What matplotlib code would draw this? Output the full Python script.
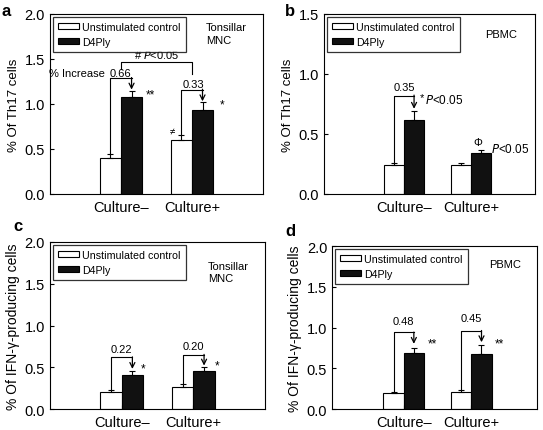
import numpy as np
import matplotlib
matplotlib.use("Agg")
import matplotlib.pyplot as plt

plt.rcParams['font.family'] = ['Liberation Sans', 'DejaVu Sans']

# data
groups = ["Culture\u2013", "Culture+"]
series = ["Unstimulated control", "D4Ply"]

a_ctrl = [0.40, 0.60]
a_ctrl_err = [0.04, 0.06]
a_d4 = [1.08, 0.93]
a_d4_err = [0.06, 0.09]

b_ctrl = [0.24, 0.24]
b_ctrl_err = [0.02, 0.02]
b_d4 = [0.62, 0.34]
b_d4_err = [0.07, 0.03]

c_ctrl = [0.20, 0.26]
c_ctrl_err = [0.03, 0.04]
c_d4 = [0.41, 0.45]
c_d4_err = [0.05, 0.05]

d_ctrl = [0.20, 0.21]
d_ctrl_err = [0.01, 0.02]
d_d4 = [0.69, 0.67]
d_d4_err = [0.06, 0.12]

increase_a = ["0.66", "0.33"]
increase_b = ["0.35"]
increase_c = ["0.22", "0.20"]
increase_d = ["0.48", "0.45"]

fig = plt.figure(figsize=(5.43, 4.31), dpi=100)

W = 0.3


def panel(rect, ctrl, ctrl_err, d4, d4_err, ymax, ylabel, ylsize, xlim):
    ax = fig.add_axes(rect)
    x = np.arange(1, len(groups) + 1)
    ax.bar(x - W / 2, ctrl, W, color="white", edgecolor="black", lw=0.8,
           yerr=[np.zeros(2), ctrl_err], capsize=2,
           error_kw=dict(ecolor="black", elinewidth=0.8, capthick=0.8),
           label=series[0])
    ax.bar(x + W / 2, d4, W, color="#111111", edgecolor="black", lw=0.8,
           yerr=[np.zeros(2), d4_err], capsize=2,
           error_kw=dict(ecolor="black", elinewidth=0.8, capthick=0.8),
           label=series[1])
    ax.set_xlim(*xlim)
    ax.set_ylim(0, ymax)
    ticks = np.arange(0, ymax + 0.01, 0.5)
    ax.set_yticks(ticks)
    ax.set_yticklabels(["%.1f" % v for v in ticks])
    ax.set_xticks(x)
    ax.set_xticklabels(groups)
    ax.tick_params(direction="in", length=3, labelsize=10.5, width=0.8)
    ax.tick_params(axis="x", pad=4)
    for s in ax.spines.values():
        s.set_linewidth(0.8)
    ax.set_ylabel(ylabel, fontsize=ylsize, labelpad=3)
    leg = ax.legend(loc="upper left", fontsize=7.7, frameon=True, fancybox=False,
                    edgecolor="black", handlelength=2.0, handleheight=0.5,
                    borderaxespad=0.25, borderpad=0.5, labelspacing=0.45,
                    handletextpad=0.25)
    leg.get_frame().set_linewidth(0.9)
    return ax


def bracket(ax, x0, x1, ytop, ybase, yarrow, label, lx=None, ly=None):
    ax.plot([x0, x0, x1], [ybase, ytop, ytop], color="black", lw=0.8)
    ax.annotate("", xy=(x1, yarrow), xytext=(x1, ytop + 0.004),
                arrowprops=dict(arrowstyle="->", color="black", lw=0.9,
                                shrinkA=0, shrinkB=0, mutation_scale=9))
    if lx is None:
        lx = (x0 + x1) / 2
    ax.text(lx, ly, label, fontsize=8, ha="center", va="bottom")


# panel letters
for letter, px, py in [("a", 0.002, 0.974), ("b", 0.525, 0.974),
                       ("c", 0.024, 0.474), ("d", 0.525, 0.462)]:
    fig.text(px, py, letter, fontsize=12, fontweight="bold", ha="left", va="center")

# panel a
ax = panel([0.092, 0.5476, 0.392, 0.4176], a_ctrl, a_ctrl_err, a_d4, a_d4_err,
           2.0, "% Of Th17 cells", 9.5, (0, 3))
ax.text(2.2, 1.78, "Tonsillar\nMNC", fontsize=8, ha="left", va="center",
        linespacing=1.35)
bracket(ax, 0.85, 1.15, 1.29, a_ctrl[0] + a_ctrl_err[0], a_d4[0] + a_d4_err[0] + 0.02,
        increase_a[0], lx=0.99, ly=1.29)
ax.text(0.78, 1.29, "% Increase", fontsize=8, ha="right", va="bottom")
bracket(ax, 1.85, 2.15, 1.16, a_ctrl[1] + a_ctrl_err[1], a_d4[1] + a_d4_err[1] + 0.01,
        increase_a[1], lx=2.02, ly=1.17)
ax.plot([1.0, 1.0, 2.0, 2.0], [1.39, 1.47, 1.47, 1.33], color="black", lw=0.8)
ax.text(1.5, 1.49, "# $\\it{P}$<0.05", fontsize=8, ha="center", va="bottom")
ax.text(1.42, 1.11, "**", fontsize=8.5, ha="center", va="center")
ax.text(2.42, 0.99, "*", fontsize=8.5, ha="center", va="center")
ax.text(1.73, 0.71, "\u2260", fontsize=7, ha="center", va="center")

# panel b
ax = panel([0.5967, 0.5476, 0.3886, 0.4176], b_ctrl, b_ctrl_err, b_d4, b_d4_err,
           1.5, "% Of Th17 cells", 9.5, (-0.19, 2.95))
ax.text(2.45, 1.33, "PBMC", fontsize=8, ha="center", va="center")
bracket(ax, 0.85, 1.15, 0.82, b_ctrl[0] + b_ctrl_err[0], b_d4[0] + b_d4_err[0] + 0.02,
        increase_b[0], lx=1.0, ly=0.85)
ax.text(1.27, 0.81, "*", fontsize=8, ha="center", va="center")
ax.text(1.31, 0.79, "$\\it{P}$<0.05", fontsize=8.5, ha="left", va="center")
ax.text(2.1, 0.43, "\u03a6", fontsize=8, ha="center", va="center")
ax.text(2.29, 0.38, "$\\it{P}$<0.05", fontsize=8.5, ha="left", va="center")

# panel c
ax = panel([0.092, 0.0487, 0.396, 0.3875], c_ctrl, c_ctrl_err, c_d4, c_d4_err,
           2.0, "% Of IFN-\u03b3-producing cells", 10, (0, 3))
ax.text(2.2, 1.64, "Tonsillar\nMNC", fontsize=8, ha="left", va="center",
        linespacing=1.35)
bracket(ax, 0.85, 1.15, 0.62, c_ctrl[0] + c_ctrl_err[0], c_d4[0] + c_d4_err[0] + 0.02,
        increase_c[0], lx=1.0, ly=0.66)
bracket(ax, 1.85, 2.15, 0.65, c_ctrl[1] + c_ctrl_err[1], c_d4[1] + c_d4_err[1] + 0.02,
        increase_c[1], lx=2.0, ly=0.69)
ax.text(1.30, 0.48, "*", fontsize=8.5, ha="center", va="center")
ax.text(2.33, 0.52, "*", fontsize=8.5, ha="center", va="center")

# panel d
ax = panel([0.6114, 0.0487, 0.3775, 0.378], d_ctrl, d_ctrl_err, d_d4, d_d4_err,
           2.0, "% Of IFN-\u03b3-producing cells", 10, (-0.06, 2.97))
ax.text(2.5, 1.78, "PBMC", fontsize=8, ha="center", va="center")
bracket(ax, 0.85, 1.15, 0.94, d_ctrl[0] + d_ctrl_err[0], d_d4[0] + d_d4_err[0] + 0.05,
        increase_d[0], lx=1.0, ly=1.02)
bracket(ax, 1.85, 2.15, 0.96, d_ctrl[1] + d_ctrl_err[1], d_d4[1] + d_d4_err[1] + 0.03,
        increase_d[1], lx=2.0, ly=1.05)
ax.text(1.42, 0.80, "**", fontsize=8.5, ha="center", va="center")
ax.text(2.42, 0.80, "**", fontsize=8.5, ha="center", va="center")

fig.savefig("out.png", dpi=100)
